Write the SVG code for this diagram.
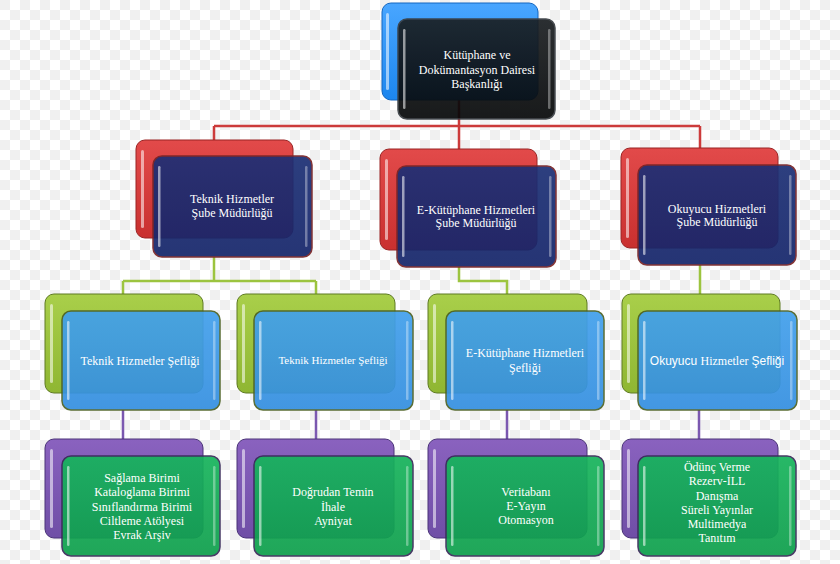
<svg xmlns="http://www.w3.org/2000/svg" width="840" height="564" viewBox="0 0 840 564">
<style>
.t{font-family:"Liberation Serif","Times New Roman",serif;font-size:12px;fill:#ffffff;text-anchor:middle}
.s{font-family:"Liberation Sans",Arial,sans-serif}
.bk{stroke-width:1}
.fr{stroke-width:1.5;opacity:0.92}
.hl{fill:#ffffff;opacity:0.55}
.hd{fill:#ffffff;opacity:0.35}
.c{fill:none;stroke-width:2.5}
</style>
<defs>
<linearGradient id="gBlueTop" x1="0" y1="0" x2="0" y2="1"><stop offset="0" stop-color="#49a6ff"/><stop offset="1" stop-color="#1c86ee"/></linearGradient>
<linearGradient id="gBlack" x1="0" y1="0" x2="0" y2="1"><stop offset="0" stop-color="#1b1f22"/><stop offset="1" stop-color="#050708"/></linearGradient>
<linearGradient id="gRed" x1="0" y1="0" x2="0" y2="1"><stop offset="0" stop-color="#e24a4a"/><stop offset="1" stop-color="#c9302f"/></linearGradient>
<linearGradient id="gNavy" x1="0" y1="0" x2="0" y2="1"><stop offset="0" stop-color="#1c2f75"/><stop offset="1" stop-color="#14256a"/></linearGradient>
<linearGradient id="gLime" x1="0" y1="0" x2="0" y2="1"><stop offset="0" stop-color="#a9cf4a"/><stop offset="1" stop-color="#8fb632"/></linearGradient>
<linearGradient id="gSky" x1="0" y1="0" x2="0" y2="1"><stop offset="0" stop-color="#42a0ec"/><stop offset="1" stop-color="#348fe0"/></linearGradient>
<linearGradient id="gPurple" x1="0" y1="0" x2="0" y2="1"><stop offset="0" stop-color="#8a62bf"/><stop offset="1" stop-color="#6f4ea6"/></linearGradient>
<linearGradient id="gGreen" x1="0" y1="0" x2="0" y2="1"><stop offset="0" stop-color="#16b45c"/><stop offset="1" stop-color="#0e9f4c"/></linearGradient>
<pattern id="chk" width="20" height="20" patternUnits="userSpaceOnUse"><rect width="20" height="20" fill="#ffffff"/><rect width="10" height="10" fill="#f0f0f0"/><rect x="10" y="10" width="10" height="10" fill="#f0f0f0"/></pattern>
</defs>
<rect width="840" height="564" fill="url(#chk)"/>

<g id="connectors">
  <path class="c" stroke="#cc3b3b" d="M459 100 V126 M214 126 H700 M214 126 V140 M459 126 V149 M700 126 V148"/>
  <path class="c" stroke="#9cc43f" d="M214 257 V281 M123 281 H316 M123 281 V294 M316 281 V294 M459 267 V281 H507 V294 M700 265 V294"/>
  <path class="c" stroke="#7b58b0" d="M123 410 V439 M316 410 V439 M507 410 V439 M699 410 V439"/>
</g>

<g id="n1">
  <rect class="bk" x="382" y="3" width="156" height="97" rx="9" fill="url(#gBlueTop)" stroke="#1466c0"/>
  <rect class="hl" x="386" y="13" width="3" height="77" rx="1.5"/>
  <rect class="fr" x="398" y="19" width="157" height="100" rx="9" fill="url(#gBlack)" stroke="#3a3f44"/>
  <rect class="hl" x="403" y="29" width="2.5" height="80" rx="1.2"/>
  <rect class="hd" x="548" y="29" width="2.5" height="80" rx="1.2"/>
  <text class="t"><tspan x="477" y="59">Kütüphane ve</tspan><tspan x="477" y="74">Dokümantasyon Dairesi</tspan><tspan x="477" y="88">Başkanlığı</tspan></text>
</g>

<g id="n2a">
  <rect class="bk" x="136" y="140" width="157" height="98" rx="9" fill="url(#gRed)" stroke="#9a2424"/>
  <rect class="hl" x="141" y="150" width="3" height="78" rx="1.5"/>
  <rect class="fr" x="153" y="156" width="159" height="101" rx="9" fill="url(#gNavy)" stroke="#7a2426"/>
  <rect class="hl" x="158" y="166" width="2.5" height="81" rx="1.2"/>
  <rect class="hd" x="305" y="166" width="2.5" height="81" rx="1.2"/>
  <text class="t"><tspan x="232" y="203">Teknik Hizmetler</tspan><tspan x="232" y="217">Şube Müdürlüğü</tspan></text>
</g>

<g id="n2b">
  <rect class="bk" x="380" y="149" width="157" height="101" rx="9" fill="url(#gRed)" stroke="#9a2424"/>
  <rect class="hl" x="385" y="159" width="3" height="81" rx="1.5"/>
  <rect class="fr" x="397" y="166" width="159" height="101" rx="9" fill="url(#gNavy)" stroke="#7a2426"/>
  <rect class="hl" x="402" y="176" width="2.5" height="81" rx="1.2"/>
  <rect class="hd" x="549" y="176" width="2.5" height="81" rx="1.2"/>
  <text class="t"><tspan x="476" y="214">E-Kütüphane Hizmetleri</tspan><tspan x="476" y="227">Şube Müdürlüğü</tspan></text>
</g>

<g id="n2c">
  <rect class="bk" x="621" y="148" width="157" height="100" rx="9" fill="url(#gRed)" stroke="#9a2424"/>
  <rect class="hl" x="626" y="158" width="3" height="80" rx="1.5"/>
  <rect class="fr" x="638" y="165" width="158" height="100" rx="9" fill="url(#gNavy)" stroke="#7a2426"/>
  <rect class="hl" x="643" y="175" width="2.5" height="80" rx="1.2"/>
  <rect class="hd" x="789" y="175" width="2.5" height="80" rx="1.2"/>
  <text class="t"><tspan x="717" y="213">Okuyucu Hizmetleri</tspan><tspan x="717" y="226">Şube Müdürlüğü</tspan></text>
</g>

<g id="n3a">
  <rect class="bk" x="45" y="294" width="158" height="99" rx="9" fill="url(#gLime)" stroke="#5e7a22"/>
  <rect class="hl" x="50" y="304" width="3" height="79" rx="1.5"/>
  <rect class="fr" x="62" y="311" width="158" height="99" rx="9" fill="url(#gSky)" stroke="#4d6224"/>
  <rect class="hl" x="67" y="321" width="2.5" height="79" rx="1.2"/>
  <rect class="hd" x="213" y="321" width="2.5" height="79" rx="1.2"/>
  <text class="t" x="140" y="365">Teknik Hizmetler Şefliği</text>
</g>

<g id="n3b">
  <rect class="bk" x="237" y="294" width="158" height="99" rx="9" fill="url(#gLime)" stroke="#5e7a22"/>
  <rect class="hl" x="242" y="304" width="3" height="79" rx="1.5"/>
  <rect class="fr" x="254" y="311" width="159" height="99" rx="9" fill="url(#gSky)" stroke="#4d6224"/>
  <rect class="hl" x="259" y="321" width="2.5" height="79" rx="1.2"/>
  <rect class="hd" x="406" y="321" width="2.5" height="79" rx="1.2"/>
  <text class="t" x="333" y="364" style="font-size:11px">Teknik Hizmetler Şefliği</text>
</g>

<g id="n3c">
  <rect class="bk" x="428" y="294" width="159" height="99" rx="9" fill="url(#gLime)" stroke="#5e7a22"/>
  <rect class="hl" x="433" y="304" width="3" height="79" rx="1.5"/>
  <rect class="fr" x="446" y="311" width="158" height="99" rx="9" fill="url(#gSky)" stroke="#4d6224"/>
  <rect class="hl" x="451" y="321" width="2.5" height="79" rx="1.2"/>
  <rect class="hd" x="597" y="321" width="2.5" height="79" rx="1.2"/>
  <text class="t"><tspan x="525" y="357">E-Kütüphane Hizmetleri</tspan><tspan x="525" y="372">Şefliği</tspan></text>
</g>

<g id="n3d">
  <rect class="bk" x="622" y="294" width="158" height="99" rx="9" fill="url(#gLime)" stroke="#5e7a22"/>
  <rect class="hl" x="627" y="304" width="3" height="79" rx="1.5"/>
  <rect class="fr" x="638" y="311" width="159" height="99" rx="9" fill="url(#gSky)" stroke="#4d6224"/>
  <rect class="hl" x="643" y="321" width="2.5" height="79" rx="1.2"/>
  <rect class="hd" x="790" y="321" width="2.5" height="79" rx="1.2"/>
  <text class="t" x="717" y="365"><tspan class="s">Okuyucu </tspan><tspan>Hizmetler </tspan><tspan class="s">Şefliği</tspan></text>
</g>

<g id="n4a">
  <rect class="bk" x="45" y="439" width="158" height="99" rx="9" fill="url(#gPurple)" stroke="#4a3378"/>
  <rect class="hl" x="50" y="449" width="3" height="79" rx="1.5"/>
  <rect class="fr" x="62" y="456" width="158" height="100" rx="9" fill="url(#gGreen)" stroke="#3a2a5a"/>
  <rect class="hl" x="67" y="466" width="2.5" height="80" rx="1.2"/>
  <rect class="hd" x="213" y="466" width="2.5" height="80" rx="1.2"/>
  <text class="t"><tspan x="142" y="482">Sağlama Birimi</tspan><tspan x="142" y="496">Kataloglama Birimi</tspan><tspan x="142" y="511">Sınıflandırma Birimi</tspan><tspan x="142" y="525">Ciltleme Atölyesi</tspan><tspan x="142" y="539">Evrak Arşiv</tspan></text>
</g>

<g id="n4b">
  <rect class="bk" x="237" y="439" width="157" height="99" rx="9" fill="url(#gPurple)" stroke="#4a3378"/>
  <rect class="hl" x="242" y="449" width="3" height="79" rx="1.5"/>
  <rect class="fr" x="254" y="456" width="159" height="100" rx="9" fill="url(#gGreen)" stroke="#3a2a5a"/>
  <rect class="hl" x="259" y="466" width="2.5" height="80" rx="1.2"/>
  <rect class="hd" x="406" y="466" width="2.5" height="80" rx="1.2"/>
  <text class="t"><tspan x="333" y="496">Doğrudan Temin</tspan><tspan x="333" y="511">İhale</tspan><tspan x="333" y="525">Ayniyat</tspan></text>
</g>

<g id="n4c">
  <rect class="bk" x="428" y="439" width="159" height="99" rx="9" fill="url(#gPurple)" stroke="#4a3378"/>
  <rect class="hl" x="433" y="449" width="3" height="79" rx="1.5"/>
  <rect class="fr" x="446" y="456" width="158" height="100" rx="9" fill="url(#gGreen)" stroke="#3a2a5a"/>
  <rect class="hl" x="451" y="466" width="2.5" height="80" rx="1.2"/>
  <rect class="hd" x="597" y="466" width="2.5" height="80" rx="1.2"/>
  <text class="t"><tspan x="526" y="496">Veritabanı</tspan><tspan x="526" y="510">E-Yayın</tspan><tspan x="526" y="524">Otomasyon</tspan></text>
</g>

<g id="n4d">
  <rect class="bk" x="622" y="439" width="156" height="99" rx="9" fill="url(#gPurple)" stroke="#4a3378"/>
  <rect class="hl" x="627" y="449" width="3" height="79" rx="1.5"/>
  <rect class="fr" x="638" y="456" width="158" height="100" rx="9" fill="url(#gGreen)" stroke="#3a2a5a"/>
  <rect class="hl" x="643" y="466" width="2.5" height="80" rx="1.2"/>
  <rect class="hd" x="789" y="466" width="2.5" height="80" rx="1.2"/>
  <text class="t"><tspan x="717" y="471">Ödünç Verme</tspan><tspan x="717" y="485">Rezerv-İLL</tspan><tspan x="717" y="500">Danışma</tspan><tspan x="717" y="514">Süreli Yayınlar</tspan><tspan x="717" y="528">Multimedya</tspan><tspan x="717" y="542">Tanıtım</tspan></text>
</g>
</svg>
